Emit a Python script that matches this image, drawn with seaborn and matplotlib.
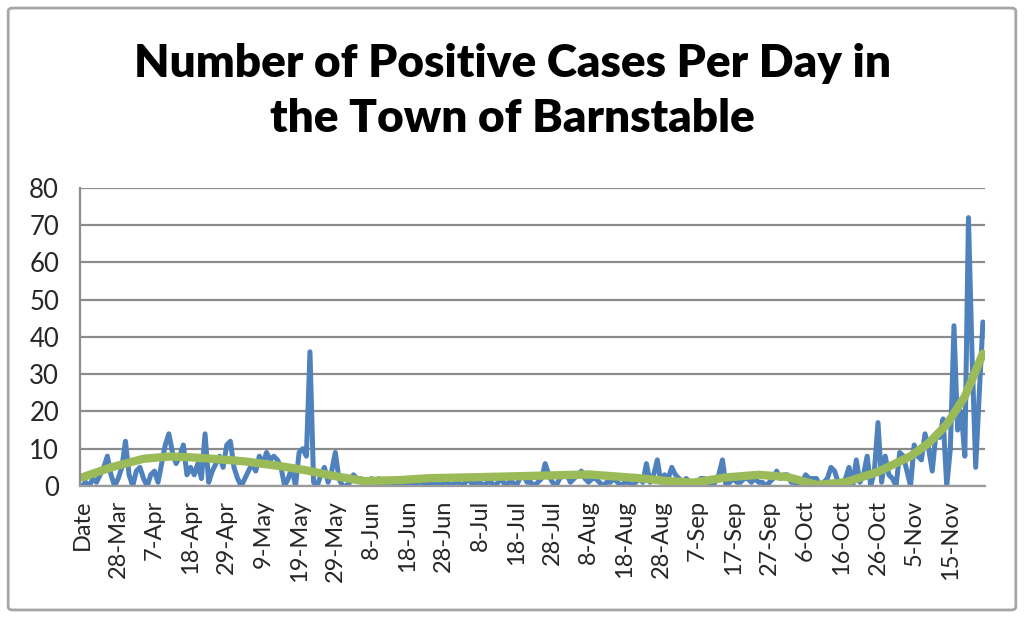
import numpy as np
import pandas as pd
import seaborn as sns
import matplotlib.pyplot as plt
from matplotlib.patches import FancyBboxPatch

# Daily positive cases (category 0 is the "Date" header row)
cases = [
    0, 1, 0, 2, 1, 3, 5, 8, 3, 0,
    2, 5, 12, 3, 0, 4, 5, 2, 0, 3,
    4, 1, 6, 11, 14, 9, 6, 8, 11, 3,
    5, 3, 6, 2, 14, 1, 4, 6, 8, 5,
    11, 12, 5, 2, 0, 2, 4, 6, 4, 8,
    6, 9, 7, 8, 7, 5, 0, 2, 5, 0,
    9, 10, 8, 36, 1, 0, 3, 5, 1, 4,
    9, 2, 0, 0, 1, 3, 2, 2, 0, 1,
    2, 0, 2, 0, 1, 0, 1, 0, 1, 1,
    0, 1, 0, 1, 1, 0, 1, 0, 1, 0,
    1, 1, 0, 1, 1, 0, 1, 2, 0, 1,
    1, 0, 1, 1, 0, 1, 2, 0, 1, 1,
    0, 2, 3, 1, 1, 0, 1, 2, 6, 3,
    1, 0, 2, 3, 3, 1, 2, 3, 4, 2,
    1, 2, 2, 1, 0, 1, 1, 2, 1, 0,
    1, 1, 0, 1, 2, 1, 6, 1, 3, 7,
    1, 3, 2, 5, 3, 2, 1, 2, 1, 0,
    1, 2, 2, 1, 0, 1, 3, 7, 0, 1,
    2, 1, 1, 2, 2, 1, 2, 1, 1, 0,
    1, 2, 4, 2, 3, 3, 1, 1, 0, 1,
    3, 2, 2, 2, 0, 1, 2, 5, 4, 1,
    0, 2, 5, 0, 7, 1, 3, 8, 0, 4,
    17, 1, 8, 3, 2, 0, 9, 8, 4, 0,
    11, 8, 7, 14, 10, 4, 14, 13, 18, 0,
    10, 43, 15, 20, 8, 72, 35, 5, 25, 44,
]

# Trendline at a few category positions
trend_cat = [0, 8, 17, 24, 30, 36, 45, 55, 62, 69, 78, 88, 96, 111, 128,
             140, 154, 162, 169, 178, 187, 195, 203, 211, 220, 229, 234,
             239, 244, 249]
trend_val = [2.3, 5.0, 7.3, 7.9, 7.7, 7.3, 6.6, 5.3, 4.2, 2.8, 1.3, 1.6,
             2.1, 2.4, 2.8, 3.1, 2.1, 1.3, 0.9, 2.3, 3.0, 2.4, 0.3, 1.0,
             3.8, 8.0, 11.5, 16.5, 24.0, 35.5]

tick_labels = ['Date', '28-Mar', '7-Apr', '18-Apr', '29-Apr', '9-May', '19-May',
               '29-May', '8-Jun', '18-Jun', '28-Jun', '8-Jul', '18-Jul',
               '28-Jul', '8-Aug', '18-Aug', '28-Aug', '7-Sep', '17-Sep',
               '27-Sep', '6-Oct', '16-Oct', '26-Oct', '5-Nov', '15-Nov']

df = pd.DataFrame({'cat': np.arange(len(cases)), 'cases': cases})
df_trend = pd.DataFrame({'cat': trend_cat, 'trend': trend_val})

sns.set_style('white')
plt.rcParams['font.family'] = ['Lato', 'DejaVu Sans']

fig = plt.figure(figsize=(10.24, 6.18), dpi=100)
ax = fig.add_axes([0.078, 0.2136, 0.884, 0.4825])

# grid behind the lines
ax.set_axisbelow(True)
ax.yaxis.grid(True, color='#8c8c8c', linewidth=1.6)

sns.lineplot(data=df, x='cat', y='cases', ax=ax, color='#4F81BD',
             linewidth=3.6, solid_joinstyle='round', solid_capstyle='round')
sns.lineplot(data=df_trend, x='cat', y='trend', ax=ax, color='#9BBB59',
             linewidth=6, solid_capstyle='round', solid_joinstyle='round')

ax.set_xlim(-0.6, len(cases) - 0.4)
ax.set_ylim(0, 80)
ax.set_yticks(range(0, 81, 10))
ax.set_yticklabels([str(v) for v in range(0, 81, 10)], fontsize=18.5)
ax.set_xticks(range(0, len(cases), 10))
ax.set_xticklabels(tick_labels, rotation=90, fontsize=17)
ax.set_xticks(np.arange(-0.5, len(cases), 1), minor=True)
ax.tick_params(axis='x', which='both', length=6, width=1, color='#9a9a9a',
               direction='out', pad=4)
ax.tick_params(axis='y', length=9, width=1.6, color='#8c8c8c', pad=6)
ax.set_xlabel('')
ax.set_ylabel('')

for side in ['top', 'right']:
    ax.spines[side].set_visible(False)
ax.spines['left'].set_color('#8c8c8c')
ax.spines['left'].set_linewidth(1.6)
ax.spines['bottom'].set_color('#9a9a9a')
ax.spines['bottom'].set_linewidth(1.6)

fig.text(0.5, 0.853, 'Number of Positive Cases Per Day in\nthe Town of Barnstable',
         ha='center', va='center', fontsize=33, fontweight='heavy',
         linespacing=1.4, color='black')

# outer chart border
border = FancyBboxPatch((0.008, 0.013), 0.984, 0.974,
                        boxstyle='round,pad=0,rounding_size=0.005',
                        transform=fig.transFigure, fill=False,
                        edgecolor='#a6a6a6', linewidth=2)
fig.patches.append(border)

fig.savefig('out.png', dpi=100)
